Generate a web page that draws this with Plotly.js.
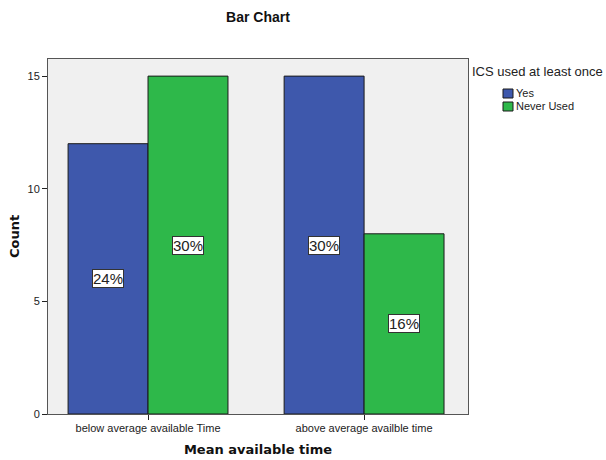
<!DOCTYPE html>
<html>
<head>
<meta charset="utf-8">
<script src="https://cdn.plot.ly/plotly-3.0.1.min.js"></script>
<style>
  html, body { margin: 0; padding: 0; background: #ffffff; }
  #chart { width: 606px; height: 460px; }
</style>
</head>
<body>
<div id="chart"></div>
<script>
// Counts of respondents by available time and ICS use
const categories = ["below average available Time", "above average availble time"];
const seriesNames = ["Yes", "Never Used"];
const yesCounts = [12, 15];
const neverCounts = [15, 8];
const seriesColors = ["#3e58ac", "#2eb84a"];
const yTicks = [0, 5, 10, 15];
const legendTitle = "ICS used at least once";

const seriesValues = [yesCounts, neverCounts];
const total = seriesValues.flat().reduce((a, b) => a + b, 0);

const FONT = "Liberation Sans, Arial, sans-serif";

const traces = seriesValues.map((vals, i) => ({
  type: "bar",
  name: seriesNames[i],
  x: categories,
  y: vals,
  marker: { color: seriesColors[i], line: { color: "#1a1a1a", width: 1 } },
  hoverinfo: "skip"
}));

// Percentage-of-total labels, centred in each bar
const barOffset = [-0.185, 0.185];
const annotations = [];
seriesValues.forEach((vals, s) => {
  vals.forEach((v, c) => {
    annotations.push({
      xref: "x", yref: "y",
      x: c + barOffset[s], y: v / 2,
      text: Math.round(v / total * 100) + "%",
      showarrow: false,
      font: { family: FONT, size: 15, color: "#222" },
      bgcolor: "#ffffff",
      bordercolor: "#333333",
      borderwidth: 1,
      borderpad: 0
    });
  });
});

// Legend: heading, then one swatch + label per series
const plotLeft = 48, plotWidth = 420, plotBottom = 414, plotHeight = 355;
const px = v => (v - plotLeft) / plotWidth;
const py = v => (plotBottom - v) / plotHeight;

annotations.push({
  xref: "paper", yref: "paper",
  x: px(470), y: py(72), xanchor: "left", yanchor: "middle",
  text: legendTitle,
  showarrow: false,
  font: { family: FONT, size: 13, color: "#222" }
});

const shapes = [];
seriesNames.forEach((name, i) => {
  const cy = 93 + i * 13;
  shapes.push({
    type: "rect", xref: "paper", yref: "paper",
    x0: px(503), x1: px(513), y0: py(cy + 5), y1: py(cy - 4),
    fillcolor: seriesColors[i],
    line: { color: "#1a1a1a", width: 1 }
  });
  annotations.push({
    xref: "paper", yref: "paper",
    x: px(514), y: py(cy), xanchor: "left", yanchor: "middle",
    text: name,
    showarrow: false,
    font: { family: FONT, size: 11, color: "#222" }
  });
});

const layout = {
  width: 606, height: 460,
  margin: { l: 48, r: 138, t: 59, b: 46 },
  paper_bgcolor: "#ffffff",
  plot_bgcolor: "#f0f0f0",
  barmode: "group",
  bargap: 0.26,
  bargroupgap: 0,
  showlegend: false,
  title: {
    text: "<b>Bar Chart</b>",
    x: 0.5, xref: "paper", xanchor: "center",
    y: 0.963, yref: "container", yanchor: "middle",
    font: { family: FONT, size: 14, color: "#111" }
  },
  xaxis: {
    type: "category",
    range: [-0.463, 1.481],
    showline: true, linecolor: "#555", linewidth: 1, mirror: true,
    ticks: "outside", ticklen: 5, tickcolor: "#222",
    ticklabelstandoff: -1,
    showgrid: false,
    tickfont: { family: FONT, size: 11, color: "#222" },
    title: {
      text: "<b>Mean available time</b>",
      standoff: 11,
      font: { family: "DejaVu Sans, sans-serif", size: 13, color: "#111" }
    }
  },
  yaxis: {
    range: [0, 15.76],
    tickvals: yTicks,
    showline: true, linecolor: "#555", linewidth: 1, mirror: true,
    ticks: "outside", ticklen: 5, tickcolor: "#222",
    showgrid: false, zeroline: false,
    tickfont: { family: FONT, size: 11, color: "#222" },
    title: {
      text: "<b>Count</b>",
      standoff: 4,
      font: { family: "DejaVu Sans, sans-serif", size: 13, color: "#111" }
    }
  },
  shapes: shapes,
  annotations: annotations
};

Plotly.newPlot("chart", traces, layout, { displayModeBar: false, staticPlot: true });
</script>
</body>
</html>
